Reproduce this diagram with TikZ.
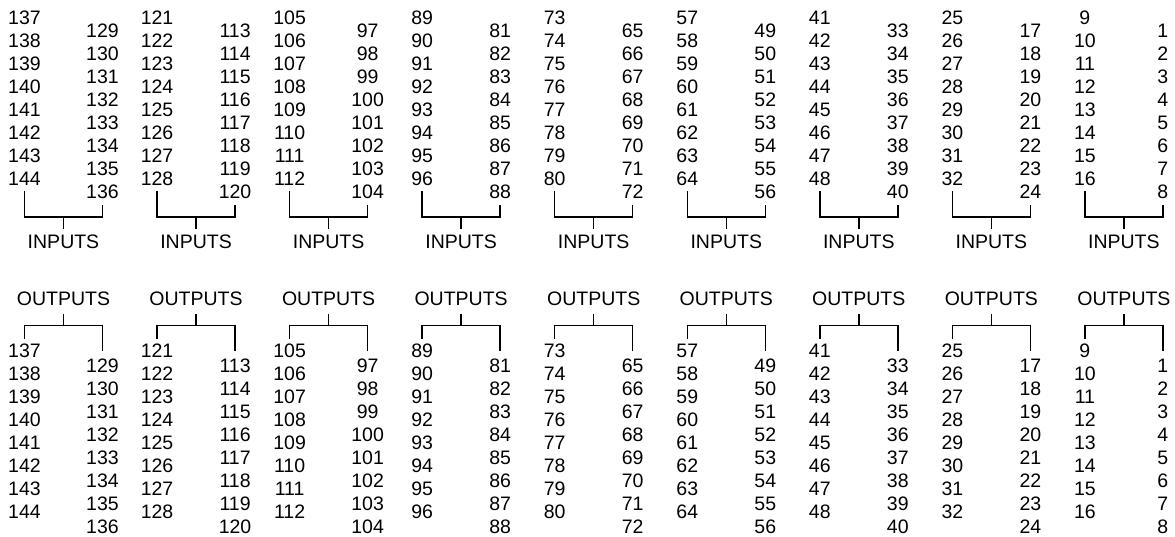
\documentclass[tikz,border=0pt]{standalone}
\usepackage{fontspec}
\setmainfont{Liberation Sans}
\begin{document}
\begin{tikzpicture}[x=1pt,y=-1pt,
  pinnum/.style={inner sep=0pt, font=\fontsize{19.5}{22}\selectfont},
  grouplabel/.style={inner sep=0pt, font=\fontsize{19.5}{22}\selectfont},
  bracket/.style={line width=1.5pt, line join=miter}]
\useasboundingbox (0,0) rectangle (1175,536);
\foreach \k in {0,...,8} {
  \pgfmathsetmacro\xl{24.5+132.55*\k}
  \pgfmathsetmacro\xr{\xl+78}
  \pgfmathsetmacro\xm{\xl+39}
  % pin numbers of the upper (input) and lower (output) blocks
  \foreach \i in {0,...,7} {
    \pgfmathtruncatemacro\nl{137-16*\k+\i}
    \pgfmathtruncatemacro\nr{129-16*\k+\i}
    \node[pinnum] (iL\k-\i) at (\xl,17.7+23.05*\i) {\nl};
    \node[pinnum] (iR\k-\i) at (\xr,30.7+23.05*\i) {\nr};
    \node[pinnum] (oL\k-\i) at (\xl,351+23*\i) {\nl};
    \node[pinnum] (oR\k-\i) at (\xr,366+23*\i) {\nr};
  }
  % group labels
  \node[grouplabel] (inlab\k) at (\xm,241.5) {INPUTS};
  \node[grouplabel] (outlab\k) at (\xm,298.5) {OUTPUTS};
  % input bracket
  \draw[bracket] (iL\k-7 |- 0,191) |- (iR\k-7 |- 0,217) -- (iR\k-7 |- 0,204.5);
  \draw[bracket] (inlab\k |- 0,217) -- (inlab\k |- 0,228.5);
  % output bracket
  \draw[bracket] (oL\k-0 |- 0,338.5) |- (oR\k-0 |- 0,325.5) -- (oR\k-0 |- 0,351);
  \draw[bracket] (outlab\k |- 0,325.5) -- (outlab\k |- 0,313.5);
}
\end{tikzpicture}
\end{document}
